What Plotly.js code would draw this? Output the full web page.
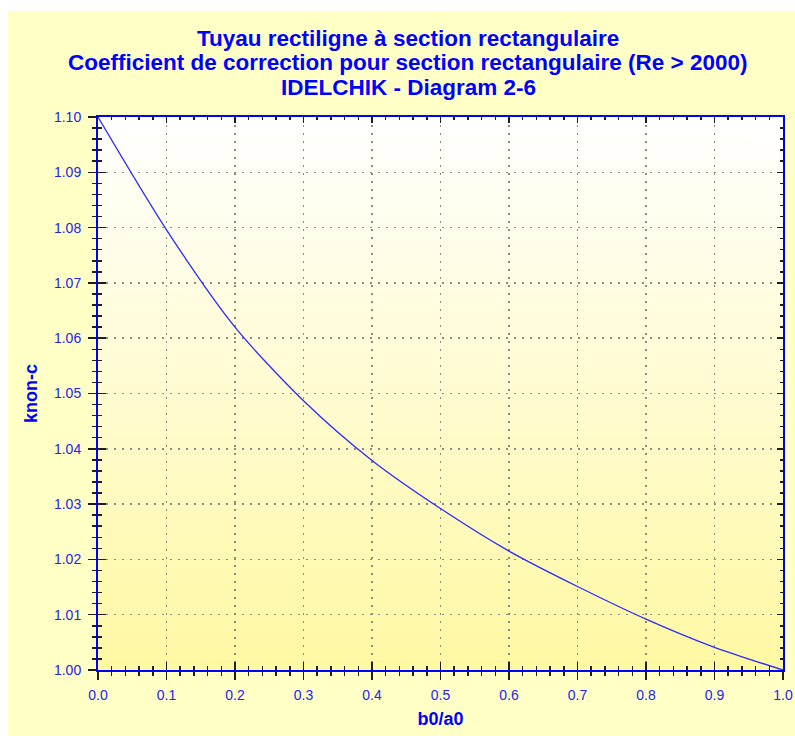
<!DOCTYPE html>
<html>
<head>
<meta charset="utf-8">
<script src="https://cdn.plot.ly/plotly-3.0.1.min.js"></script>
<style>
html,body{margin:0;padding:0;background:#ffffff;}
#chart{position:absolute;left:8px;top:11px;width:787px;height:725px;}
</style>
</head>
<body>
<div id="chart"></div>
<script>
// ---- data ----
const ratio = [0.0, 0.1, 0.2, 0.3, 0.4, 0.5, 0.6, 0.7, 0.8, 0.9, 1.0];           // b0/a0
const knonc = [1.100, 1.0796, 1.0620, 1.0487, 1.0379, 1.0292, 1.0215, 1.0151, 1.0092, 1.0041, 1.000];
const titleLines = [
  "Tuyau rectiligne à section rectangulaire",
  "Coefficient de correction pour section rectangulaire (Re > 2000)",
  "IDELCHIK - Diagram 2-6"
];
const xTitle = "b0/a0";
const yTitle = "knon-c";
const xRange = [0, 1];
const yRange = [1.0, 1.1];

// ---- styling ----
const BLUE = "#0000ff";
const LABEL = "#2424f0";
const TICK = "#1e1e1e";
const GRID = "#8c8c80";
const FONT = "Liberation Sans, Arial, sans-serif";

const svgBg = "<svg xmlns='http://www.w3.org/2000/svg' width='10' height='100' preserveAspectRatio='none'>" +
  "<defs><linearGradient id='g' x1='0' y1='0' x2='0' y2='1'>" +
  "<stop offset='0' stop-color='#ffffff'/><stop offset='1' stop-color='#fff8a2'/>" +
  "</linearGradient></defs><rect width='10' height='100' fill='url(#g)'/></svg>";
const bgSrc = "data:image/svg+xml;charset=utf-8," + encodeURIComponent(svgBg);

const traces = [
  {x: ratio, y: knonc, type: "scatter", mode: "lines", line: {color: "#2b2bff", width: 1.3, shape: "spline", smoothing: 0.8},
   xaxis: "x", yaxis: "y", showlegend: false, hoverinfo: "x+y"},
  {x: ratio, y: knonc, type: "scatter", mode: "none", xaxis: "x2", yaxis: "y2", showlegend: false, hoverinfo: "skip"},
  {x: ratio, y: knonc, type: "scatter", mode: "none", xaxis: "x3", yaxis: "y3", showlegend: false, hoverinfo: "skip"}
];

function baseAxis(range, dtick) {
  return {range: range, dtick: dtick, tick0: range[0], autorange: false, fixedrange: true, zeroline: false};
}

const layout = {
  width: 787, height: 725,
  margin: {l: 90, r: 12, t: 106, b: 66, pad: 0},
  paper_bgcolor: "#ffffc6",
  plot_bgcolor: "#ffffff",
  showlegend: false,
  font: {family: FONT, color: LABEL, size: 14},
  xaxis: Object.assign(baseAxis(xRange, 0.1), {
    anchor: "y", side: "bottom",
    showline: true, linecolor: BLUE, linewidth: 2,
    ticks: "outside", ticklen: 8, tickwidth: 1.5, tickcolor: TICK,
    minor: {dtick: 0.02, ticks: "outside", ticklen: 4, tickwidth: 1.5, tickcolor: TICK, showgrid: false},
    tickformat: ".1f", tickfont: {family: FONT, size: 14, color: LABEL}, ticklabelstandoff: 3,
    showgrid: true, gridcolor: GRID, gridwidth: 1.5, griddash: "2px,6px",
    title: {text: xTitle, font: {family: FONT, size: 18, color: BLUE, weight: "bold"}, standoff: 11}
  }),
  yaxis: Object.assign(baseAxis(yRange, 0.01), {
    anchor: "x", side: "left",
    showline: true, linecolor: BLUE, linewidth: 2,
    ticks: "outside", ticklen: 8, tickwidth: 1.5, tickcolor: TICK,
    minor: {dtick: 0.002, ticks: "outside", ticklen: 4, tickwidth: 1.5, tickcolor: TICK, showgrid: false},
    tickformat: ".2f", tickfont: {family: FONT, size: 14, color: LABEL}, ticklabelstandoff: 4,
    showgrid: true, gridcolor: GRID, gridwidth: 1.5, griddash: "2px,6px",
    title: {text: yTitle, font: {family: FONT, size: 18, color: BLUE, weight: "bold"}, standoff: 12}
  }),
  xaxis2: Object.assign(baseAxis(xRange, 0.1), {
    overlaying: "x", anchor: "y", side: "bottom", showline: false, showgrid: false, showticklabels: false,
    ticks: "inside", ticklen: 8, tickwidth: 1.5, tickcolor: TICK,
    minor: {dtick: 0.02, ticks: "inside", ticklen: 4, tickwidth: 1.5, tickcolor: TICK, showgrid: false}
  }),
  yaxis2: Object.assign(baseAxis(yRange, 0.01), {
    overlaying: "y", anchor: "x", side: "left", showline: false, showgrid: false, showticklabels: false,
    ticks: "inside", ticklen: 8, tickwidth: 1.5, tickcolor: TICK,
    minor: {dtick: 0.002, ticks: "inside", ticklen: 4, tickwidth: 1.5, tickcolor: TICK, showgrid: false}
  }),
  xaxis3: Object.assign(baseAxis(xRange, 0.1), {
    overlaying: "x", anchor: "y", side: "top", showline: true, linecolor: BLUE, linewidth: 2,
    showgrid: false, showticklabels: false,
    ticks: "inside", ticklen: 6, tickwidth: 1.5, tickcolor: TICK,
    minor: {dtick: 0.02, ticks: "inside", ticklen: 3, tickwidth: 1.5, tickcolor: TICK, showgrid: false}
  }),
  yaxis3: Object.assign(baseAxis(yRange, 0.01), {
    overlaying: "y", anchor: "x", side: "right", showline: true, linecolor: BLUE, linewidth: 2,
    showgrid: false, showticklabels: false,
    ticks: "inside", ticklen: 6, tickwidth: 1.5, tickcolor: TICK,
    minor: {dtick: 0.002, ticks: "inside", ticklen: 3, tickwidth: 1.5, tickcolor: TICK, showgrid: false}
  }),
  images: [{
    source: bgSrc, xref: "x", yref: "y",
    x: xRange[0], y: yRange[1], sizex: xRange[1] - xRange[0], sizey: yRange[1] - yRange[0],
    xanchor: "left", yanchor: "top", sizing: "stretch", layer: "below"
  }],
  annotations: titleLines.map((t, i) => ({
    text: t, xref: "paper", yref: "paper", x: 0.4526, xanchor: "center",
    y: 1 + (106 - 27 - 25 * i) / 553, yanchor: "middle", showarrow: false,
    font: {family: FONT, size: 22.5, color: BLUE, weight: "bold"}
  }))
};

Plotly.newPlot("chart", traces, layout, {displayModeBar: false, staticPlot: true});
</script>
</body>
</html>
